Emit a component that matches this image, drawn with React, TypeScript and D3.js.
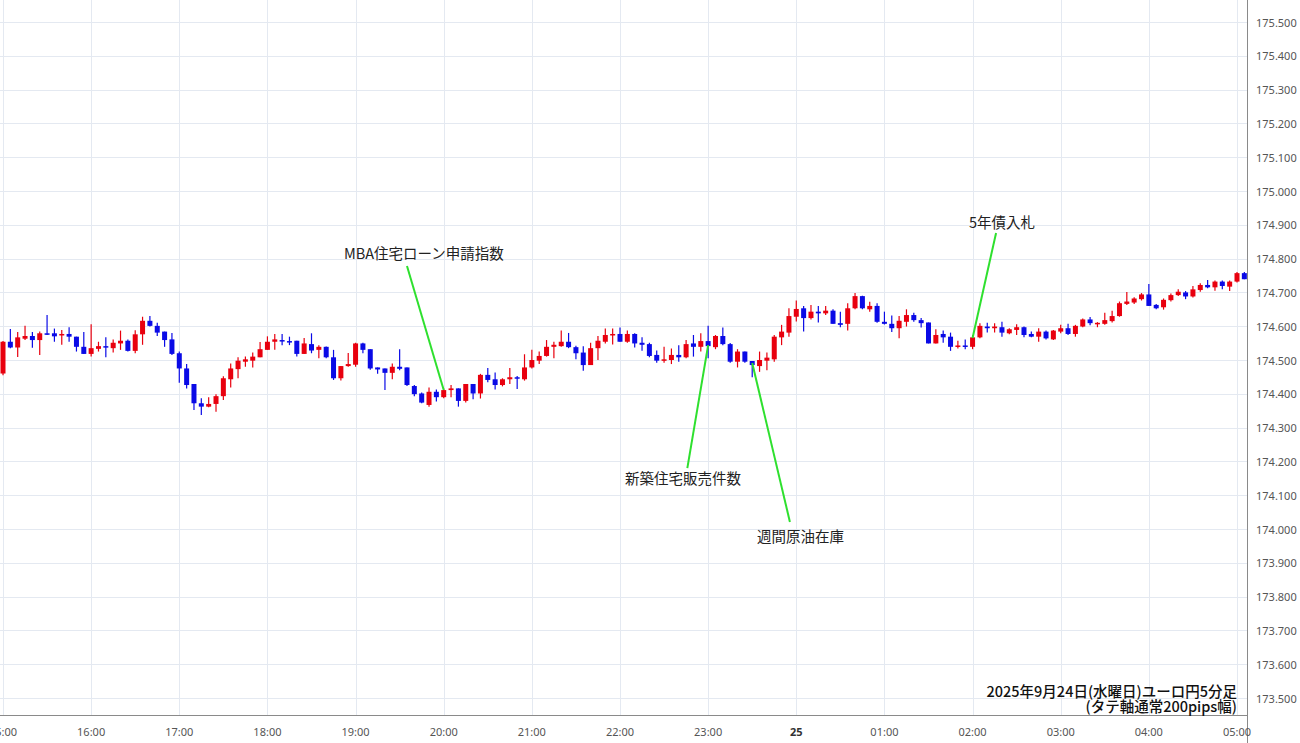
import React from "react";
import * as d3 from "d3";

// ---- data: EUR/JPY 5-minute candles, 2025-09-24 15:00 -> 2025-09-25 05:05 ----
const startTime = new Date(2025, 8, 24, 15, 0);
const endTime = new Date(2025, 8, 25, 5, 0);

const opens = [
  174.460, 174.554, 174.537, 174.563, 174.571, 174.559, 174.579, 174.579, 174.574, 174.577,
  174.569, 174.539, 174.518, 174.533, 174.541, 174.535, 174.549, 174.557, 174.527, 174.576,
  174.616, 174.601, 174.584, 174.561, 174.520, 174.475, 174.429, 174.372, 174.362, 174.370,
  174.393, 174.443, 174.473, 174.495, 174.498, 174.508, 174.530, 174.554, 174.559, 174.556,
  174.557, 174.518, 174.547, 174.530, 174.539, 174.508, 174.446, 174.482, 174.486, 174.549,
  174.532, 174.478, 174.475, 174.462, 174.480, 174.478, 174.423, 174.401, 174.367, 174.406,
  174.390, 174.411, 174.416, 174.379, 174.429, 174.401, 174.456, 174.443, 174.426, 174.443,
  174.449, 174.443, 174.478, 174.498, 174.512, 174.539, 174.541, 174.554, 174.538, 174.522,
  174.485, 174.535, 174.554, 174.573, 174.577, 174.554, 174.577, 174.551, 174.547, 174.515,
  174.498, 174.500, 174.515, 174.508, 174.549, 174.539, 174.556, 174.538, 174.571, 174.547,
  174.495, 174.525, 174.497, 174.482, 174.498, 174.502, 174.567, 174.581, 174.628, 174.653,
  174.624, 174.643, 174.638, 174.646, 174.609, 174.607, 174.653, 174.689, 174.650, 174.660,
  174.613, 174.607, 174.594, 174.613, 174.633, 174.618, 174.611, 174.549, 174.577, 174.569,
  174.541, 174.543, 174.539, 174.567, 174.599, 174.594, 174.597, 174.579, 174.589, 174.597,
  174.577, 174.569, 174.584, 174.561, 174.584, 174.594, 174.577, 174.599, 174.620, 174.607,
  174.607, 174.615, 174.630, 174.666, 174.670, 174.680, 174.694, 174.663, 174.656, 174.677,
  174.692, 174.700, 174.688, 174.707, 174.722, 174.715, 174.732, 174.717, 174.732, 174.757,
];
const highs = [
  174.556, 174.592, 174.583, 174.601, 174.583, 174.584, 174.633, 174.593, 174.589, 174.597,
  174.569, 174.583, 174.606, 174.554, 174.567, 174.561, 174.587, 174.561, 174.588, 174.628,
  174.630, 174.610, 174.584, 174.580, 174.525, 174.488, 174.429, 174.387, 174.390, 174.399,
  174.452, 174.490, 174.508, 174.510, 174.522, 174.553, 174.570, 174.577, 174.577, 174.569,
  174.557, 174.565, 174.579, 174.544, 174.540, 174.530, 174.482, 174.521, 174.551, 174.551,
  174.532, 174.478, 174.475, 174.490, 174.532, 174.478, 174.426, 174.404, 174.419, 174.413,
  174.416, 174.426, 174.416, 174.429, 174.429, 174.459, 174.476, 174.463, 174.446, 174.476,
  174.453, 174.517, 174.530, 174.525, 174.559, 174.554, 174.587, 174.580, 174.542, 174.541,
  174.551, 174.571, 174.593, 174.593, 174.596, 174.587, 174.579, 174.567, 174.551, 174.528,
  174.539, 174.534, 174.544, 174.559, 174.574, 174.579, 174.601, 174.574, 174.596, 174.550,
  174.532, 174.525, 174.497, 174.525, 174.522, 174.574, 174.604, 174.653, 174.676, 174.660,
  174.663, 174.660, 174.660, 174.650, 174.643, 174.668, 174.698, 174.690, 174.672, 174.668,
  174.643, 174.632, 174.630, 174.650, 174.640, 174.624, 174.611, 174.591, 174.587, 174.581,
  174.557, 174.561, 174.574, 174.609, 174.610, 174.609, 174.613, 174.594, 174.606, 174.599,
  174.584, 174.594, 174.587, 174.589, 174.604, 174.607, 174.604, 174.623, 174.627, 174.612,
  174.640, 174.646, 174.673, 174.701, 174.686, 174.698, 174.725, 174.666, 174.682, 174.697,
  174.709, 174.704, 174.719, 174.727, 174.737, 174.735, 174.735, 174.735, 174.760, 174.760,
];
const lows = [
  174.455, 174.535, 174.509, 174.559, 174.536, 174.515, 174.574, 174.554, 174.545, 174.554,
  174.525, 174.518, 174.510, 174.525, 174.508, 174.522, 174.530, 174.525, 174.520, 174.545,
  174.599, 174.571, 174.539, 174.515, 174.433, 174.416, 174.352, 174.337, 174.360, 174.347,
  174.382, 174.419, 174.446, 174.480, 174.478, 174.508, 174.530, 174.530, 174.544, 174.544,
  174.510, 174.518, 174.520, 174.505, 174.505, 174.441, 174.439, 174.480, 174.480, 174.520,
  174.471, 174.459, 174.411, 174.443, 174.470, 174.423, 174.393, 174.372, 174.362, 174.377,
  174.387, 174.390, 174.362, 174.374, 174.384, 174.386, 174.434, 174.413, 174.422, 174.429,
  174.414, 174.439, 174.475, 174.488, 174.510, 174.505, 174.539, 174.535, 174.502, 174.468,
  174.485, 174.500, 174.549, 174.546, 174.554, 174.551, 174.537, 174.527, 174.508, 174.492,
  174.492, 174.488, 174.495, 174.505, 174.510, 174.525, 174.505, 174.532, 174.544, 174.492,
  174.478, 174.492, 174.449, 174.465, 174.470, 174.495, 174.544, 174.569, 174.614, 174.584,
  174.620, 174.611, 174.633, 174.607, 174.597, 174.587, 174.650, 174.650, 174.643, 174.610,
  174.605, 174.583, 174.564, 174.599, 174.613, 174.596, 174.549, 174.549, 174.551, 174.527,
  174.534, 174.532, 174.532, 174.564, 174.581, 174.581, 174.569, 174.576, 174.574, 174.567,
  174.567, 174.554, 174.561, 174.559, 174.579, 174.574, 174.569, 174.597, 174.603, 174.597,
  174.604, 174.611, 174.628, 174.663, 174.666, 174.676, 174.660, 174.650, 174.649, 174.673,
  174.689, 174.680, 174.685, 174.702, 174.712, 174.705, 174.709, 174.704, 174.729, 174.739,
];
const closes = [
  174.554, 174.537, 174.567, 174.571, 174.559, 174.579, 174.577, 174.570, 174.577, 174.569,
  174.539, 174.518, 174.535, 174.541, 174.537, 174.551, 174.557, 174.527, 174.576, 174.616,
  174.601, 174.581, 174.559, 174.518, 174.475, 174.426, 174.372, 174.362, 174.370, 174.393,
  174.446, 174.475, 174.498, 174.502, 174.510, 174.532, 174.554, 174.561, 174.556, 174.554,
  174.518, 174.549, 174.528, 174.539, 174.508, 174.446, 174.482, 174.488, 174.549, 174.530,
  174.475, 174.472, 174.462, 174.480, 174.474, 174.426, 174.399, 174.374, 174.406, 174.390,
  174.411, 174.416, 174.379, 174.429, 174.401, 174.456, 174.441, 174.426, 174.443, 174.449,
  174.445, 174.478, 174.500, 174.512, 174.539, 174.545, 174.554, 174.538, 174.520, 174.485,
  174.535, 174.557, 174.574, 174.577, 174.554, 174.577, 174.549, 174.545, 174.512, 174.498,
  174.502, 174.515, 174.508, 174.547, 174.539, 174.556, 174.541, 174.571, 174.547, 174.495,
  174.525, 174.495, 174.485, 174.500, 174.507, 174.569, 174.584, 174.630, 174.651, 174.624,
  174.643, 174.638, 174.646, 174.607, 174.604, 174.653, 174.689, 174.653, 174.660, 174.613,
  174.607, 174.594, 174.616, 174.633, 174.618, 174.609, 174.549, 174.574, 174.567, 174.539,
  174.543, 174.541, 174.567, 174.601, 174.594, 174.599, 174.581, 174.591, 174.597, 174.574,
  174.569, 174.584, 174.564, 174.587, 174.594, 174.577, 174.601, 174.620, 174.609, 174.610,
  174.618, 174.630, 174.668, 174.673, 174.682, 174.694, 174.660, 174.653, 174.678, 174.692,
  174.702, 174.688, 174.709, 174.722, 174.715, 174.732, 174.719, 174.732, 174.757, 174.739,
];

const priceTicks = d3.range(0, 21).map((i) => +(173.5 + i * 0.1).toFixed(1));

const eventNames = ["MBA住宅ローン申請指数", "新築住宅販売件数", "週間原油在庫", "5年債入札"];
const eventTimes = [
  new Date(2025, 8, 24, 20, 0),
  new Date(2025, 8, 24, 23, 0),
  new Date(2025, 8, 24, 23, 30),
  new Date(2025, 8, 25, 2, 0),
];
const eventPrices = [174.411, 174.544, 174.491, 174.565];
const leaderTimes = [
  new Date(2025, 8, 24, 19, 35, 0),
  new Date(2025, 8, 24, 22, 45, 50),
  new Date(2025, 8, 24, 23, 55, 40),
  new Date(2025, 8, 25, 2, 16, 0),
];
const leaderPrices = [174.778, 174.18, 174.021, 174.876];
const labelTimes = [
  new Date(2025, 8, 24, 19, 46, 30),
  new Date(2025, 8, 24, 22, 42, 55),
  new Date(2025, 8, 25, 0, 2, 55),
  new Date(2025, 8, 25, 2, 20, 0),
];
const labelPrices = [174.817, 174.151, 173.982, 174.911];

const titleLines = ["2025年9月24日(水曜日)ユーロ円5分足", "(タテ軸通常200pips幅)"];

// ---- layout ----
const W = 1300;
const H = 743;
const plotRight = 1247;
const plotBottom = 716;

const UP = "#e8000e";
const DOWN = "#0a0ae6";
const GRID = "#e4e9f1";

export default function App() {
  const x = d3.scaleTime().domain([startTime, endTime]).range([3, 1237]);
  const y = d3.scaleLinear().domain([173.5, 175.5]).range([698, 22]);

  const candles = opens.map((o, i) => ({
    t: d3.timeMinute.offset(startTime, i * 5),
    o,
    h: highs[i],
    l: lows[i],
    c: closes[i],
  }));

  const hourTicks = d3.timeHour.range(startTime, d3.timeMinute.offset(endTime, 1));
  const bodyW = 5;

  return (
    <div style={{ position: "absolute", left: 0, top: 0, width: W, height: H, background: "#fff" }}>
      <svg width={W} height={H} style={{ display: "block" }}>
        <defs>
          <clipPath id="plotclip">
            <rect x={0} y={0} width={plotRight} height={plotBottom} />
          </clipPath>
        </defs>
        <rect x={0} y={0} width={W} height={H} fill="#fff" />
        {/* grid */}
        {priceTicks.map((p) => (
          <line key={"hg" + p} x1={0} x2={plotRight} y1={Math.round(y(p)) + 0.5} y2={Math.round(y(p)) + 0.5} stroke={GRID} strokeWidth={1} />
        ))}
        {hourTicks.map((t) => (
          <line key={"vg" + t.getTime()} x1={Math.round(x(t)) + 0.5} x2={Math.round(x(t)) + 0.5} y1={0} y2={plotBottom} stroke={GRID} strokeWidth={1} />
        ))}
        {/* candles */}
        <g clipPath="url(#plotclip)">
          {candles.map((d, i) => {
            const cx = x(d.t);
            const up = d.c >= d.o;
            const col = up ? UP : DOWN;
            const top = y(Math.max(d.o, d.c));
            const bot = y(Math.min(d.o, d.c));
            return (
              <g key={i}>
                <line x1={cx} x2={cx} y1={y(d.h)} y2={y(d.l)} stroke={col} strokeWidth={1.2} />
                <rect x={cx - bodyW / 2} y={top} width={bodyW} height={Math.max(1.5, bot - top)} fill={col} />
              </g>
            );
          })}
        </g>
        {/* event annotations */}
        {eventNames.map((name, i) => (
          <g key={"ev" + i}>
            <line
              x1={x(eventTimes[i])}
              y1={y(eventPrices[i])}
              x2={x(leaderTimes[i])}
              y2={y(leaderPrices[i])}
              stroke="#2ee02e"
              strokeWidth={2}
            />
            <text
              x={x(labelTimes[i])}
              y={y(labelPrices[i])}
              textAnchor="middle"
              dominantBaseline="central"
              fontFamily="'Noto Sans CJK JP', 'Noto Sans', sans-serif"
              fontSize={14.5}
              fill="#222"
            >
              {name}
            </text>
          </g>
        ))}
        {/* axes */}
        <line x1={0} x2={plotRight} y1={plotBottom - 0.5} y2={plotBottom - 0.5} stroke="#8a8a8a" strokeWidth={1} />
        <line x1={plotRight + 0.5} x2={plotRight + 0.5} y1={0} y2={H} stroke="#8a8a8a" strokeWidth={1} />
        {priceTicks.map((p) => (
          <text
            key={"yl" + p}
            x={1256}
            y={y(p)}
            dominantBaseline="central"
            fontFamily="'Noto Sans', sans-serif"
            fontSize={11}
            fill="#555"
          >
            {d3.format(".3f")(p)}
          </text>
        ))}
        {hourTicks.map((t) => {
          const midnight = t.getHours() === 0;
          return (
            <text
              key={"xl" + t.getTime()}
              x={x(t)}
              y={731}
              textAnchor="middle"
              dominantBaseline="central"
              fontFamily="'Noto Sans', sans-serif"
              fontSize={11}
              fontWeight={midnight ? "bold" : "normal"}
              fill={midnight ? "#333" : "#555"}
            >
              {midnight ? d3.timeFormat("%-d")(t) : d3.timeFormat("%H:%M")(t)}
            </text>
          );
        })}
        {/* title */}
        {titleLines.map((s, i) => (
          <text
            key={"tt" + i}
            x={1237}
            y={690 + i * 15}
            textAnchor="end"
            dominantBaseline="central"
            fontFamily="'Noto Sans CJK JP', sans-serif"
            fontSize={14.5}
            fontWeight={500}
            fill="#111"
          >
            {s}
          </text>
        ))}
      </svg>
    </div>
  );
}
